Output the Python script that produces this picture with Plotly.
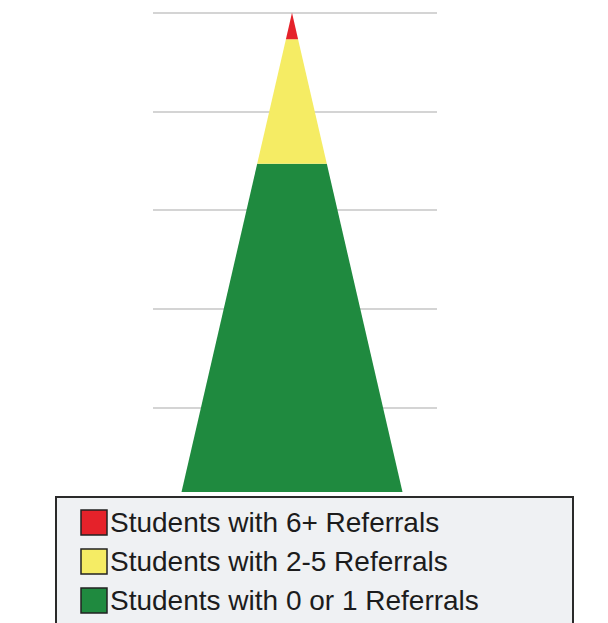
import plotly.graph_objects as go
import numpy as np

# ---- data (top of pyramid to bottom) ----
categories = ["Students with 6+ Referrals",
              "Students with 2-5 Referrals",
              "Students with 0 or 1 Referrals"]
percentages = [5.5, 26.0, 68.5]
colors = ["#e5222a", "#f5ec64", "#1f8a3f"]

# ---- layout constants ----
W, H = 608, 623
L, R, T, B = 153, 171, 8, 131
PW, PH = W - L - R, H - T - B
Y_MAX = 101.0
HALF_BASE = 110.5          # half width of pyramid base (x units = px)
X_RANGE = [-139, 145]

def hw(y):
    return HALF_BASE * (100.0 - y) / 100.0

fig = go.Figure()

# cumulative from the bottom
bottom_up = list(zip(categories, percentages, colors))[::-1]
lo = 0.0
for name, val, col in bottom_up:
    hi = lo + val
    xs = [-hw(lo), hw(lo), hw(hi), -hw(hi), -hw(lo)]
    ys = [lo, lo, hi, hi, lo]
    fig.add_trace(go.Scatter(x=xs, y=ys, mode="lines", fill="toself",
                             fillcolor=col, line=dict(width=0, color=col),
                             name=name, showlegend=False, hoverinfo="name"))
    lo = hi

# ---- custom legend (paper coords from pixel positions) ----
def px_x(p):
    return (p - L) / PW

def px_y(p):
    return (T + PH - p) / PH

shapes = []
annotations = []
shapes.append(dict(type="rect", xref="paper", yref="paper",
                   x0=px_x(56), x1=px_x(573), y0=px_y(497), y1=px_y(660),
                   fillcolor="#eff1f3", line=dict(color="#2a2a2a", width=2),
                   layer="above"))
row_top0 = 510
row_gap = 39
for i, (name, col) in enumerate(zip(categories, colors)):
    top = row_top0 + i * row_gap
    shapes.append(dict(type="rect", xref="paper", yref="paper",
                       x0=px_x(81), x1=px_x(107), y0=px_y(top), y1=px_y(top + 25),
                       fillcolor=col, line=dict(color="#222222", width=1.5),
                       layer="above"))
    annotations.append(dict(xref="paper", yref="paper", x=px_x(108),
                            y=px_y(top + 12.5), xanchor="left", yanchor="middle",
                            text=name, showarrow=False,
                            font=dict(family="Liberation Sans, Arial", size=28,
                                      color="#1c1c1c")))

fig.update_layout(
    width=W, height=H,
    margin=dict(l=L, r=R, t=T, b=B, pad=0),
    paper_bgcolor="white", plot_bgcolor="white",
    xaxis=dict(range=X_RANGE, showgrid=False, zeroline=False,
               showticklabels=False, showline=False, ticks=""),
    yaxis=dict(range=[0, Y_MAX], showgrid=True, gridcolor="rgb(212,212,212)",
               gridwidth=1.5, tick0=-3.0, dtick=20.6, zeroline=False,
               showticklabels=False, showline=False, ticks=""),
    shapes=shapes, annotations=annotations,
    showlegend=False,
)

fig.write_html("out.html")
